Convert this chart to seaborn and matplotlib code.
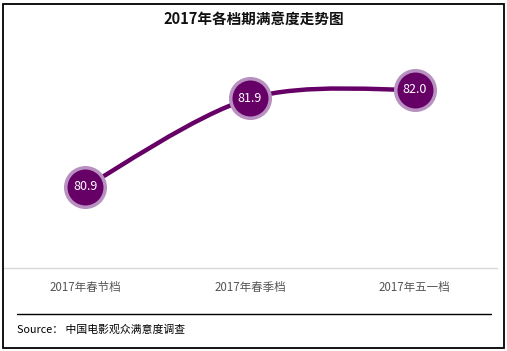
import numpy as np
import pandas as pd
import seaborn as sns
import matplotlib.pyplot as plt
from matplotlib.path import Path
from matplotlib.patches import PathPatch, Rectangle
from matplotlib.lines import Line2D

periods = ["2017年春节档", "2017年春季档", "2017年五一档"]
scores = [80.9, 81.9, 82.0]

dark = "#660066"
light = "#b891c0"

sns.set_theme(style="white")
plt.rcParams['font.family'] = ['Noto Sans CJK SC', 'DejaVu Sans']

W, H = 507, 351
fig = plt.figure(figsize=(W / 100, H / 100), dpi=100)
ax = fig.add_axes([3 / W, (H - 268) / H, 494 / W, (268 - 40) / H])

df = pd.DataFrame({"period": periods, "score": scores, "x": range(len(periods))})

# smooth curve through the points (Catmull-Rom style bezier)
pts = df[["x", "score"]].to_numpy(dtype=float)
verts = [tuple(pts[0])]
codes = [Path.MOVETO]
for i in range(len(pts) - 1):
    p0 = pts[i - 1] if i > 0 else pts[i]
    p1, p2 = pts[i], pts[i + 1]
    p3 = pts[i + 2] if i + 2 < len(pts) else pts[i + 1]
    c1 = p1 + (p2 - p0) / 6
    c2 = p2 - (p3 - p1) / 6
    verts += [tuple(c1), tuple(c2), tuple(p2)]
    codes += [Path.CURVE4] * 3
ax.add_patch(PathPatch(Path(verts, codes), facecolor="none", edgecolor=dark,
                       lw=3.2, capstyle="round", zorder=2))

sns.scatterplot(data=df, x="x", y="score", s=960, color=light, linewidth=0, ax=ax, zorder=3)
sns.scatterplot(data=df, x="x", y="score", s=670, color=dark, linewidth=0, ax=ax, zorder=4)
for _, r in df.iterrows():
    ax.text(r["x"], r["score"], f"{r['score']:.1f}", color="white", fontsize=9,
            ha="center", va="center", zorder=5)

ax.set_xlim(-0.5, 2.5)
ax.set_ylim(79.985, 82.56)
ax.set_xticks(df["x"])
ax.set_xticklabels(periods, fontsize=8.3, color="#555555")
ax.tick_params(axis="x", length=0, pad=9)
ax.set_yticks([])
ax.set_xlabel("")
ax.set_ylabel("")
for s in ["top", "left", "right"]:
    ax.spines[s].set_visible(False)
ax.spines["bottom"].set_color("#d9d9d9")
ax.spines["bottom"].set_linewidth(1)

fig.text(254 / W, 1 - 20 / H, "2017年各档期满意度走势图", fontsize=10.5, fontweight="bold",
         ha="center", va="center", color="#111111")
fig.add_artist(Line2D([17 / W, 491 / W], [1 - 314 / H, 1 - 314 / H], color="black", lw=1))
fig.text(17 / W, 1 - 330 / H, "Source： 中国电影观众满意度调查", fontsize=7.8,
         ha="left", va="center", color="black")
fig.add_artist(Rectangle((3 / W, 3 / H), 501 / W, 344 / H, transform=fig.transFigure,
                         fill=False, edgecolor="black", lw=1.3))

fig.savefig("out.png", dpi=100)
